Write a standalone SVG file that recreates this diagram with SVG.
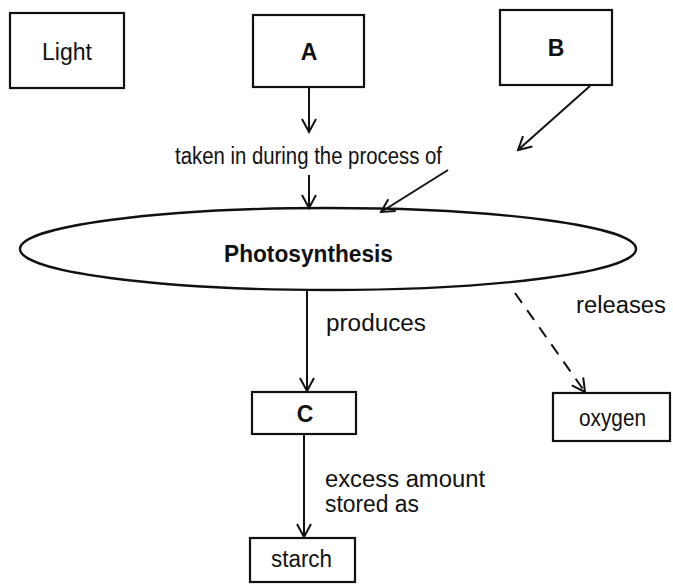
<svg xmlns="http://www.w3.org/2000/svg" width="673" height="586" viewBox="0 0 673 586">
<style>
.box{fill:#fff;stroke:#111;stroke-width:2.2}
.t{font-family:"Liberation Sans",Arial,sans-serif;font-size:23px;fill:#111}
.b{font-weight:bold}
.c{stroke:#111;stroke-width:2;fill:none}
.d{stroke-dasharray:12 9}
</style>
<defs>
<marker id="ah" viewBox="0 0 16 16" refX="14" refY="8" markerWidth="16" markerHeight="16" markerUnits="userSpaceOnUse" orient="auto">
<path d="M1,1 L14,8 L1,15" fill="none" stroke="#111" stroke-width="2"/>
</marker>
</defs>
<rect width="673" height="586" fill="#fff"/>
<g id="connectors">
<line class="c" x1="309" y1="87" x2="309" y2="132" marker-end="url(#ah)"/>
<line class="c" x1="590" y1="86" x2="518" y2="150" marker-end="url(#ah)"/>
<line class="c" x1="309" y1="175" x2="309" y2="208" marker-end="url(#ah)"/>
<line class="c" x1="448" y1="170" x2="381" y2="212" marker-end="url(#ah)"/>
<line class="c" x1="307" y1="290" x2="307" y2="391" marker-end="url(#ah)"/>
<line class="c d" x1="515" y1="293" x2="585" y2="392" marker-end="url(#ah)"/>
<line class="c" x1="304" y1="434" x2="304" y2="537" marker-end="url(#ah)"/>
<text class="t" x="175" y="164" textLength="267" lengthAdjust="spacingAndGlyphs">taken in during the process of</text>
<text class="t" x="326" y="331" textLength="100" lengthAdjust="spacingAndGlyphs">produces</text>
<text class="t" x="576" y="313" textLength="90" lengthAdjust="spacingAndGlyphs">releases</text>
<text class="t" x="325" y="487" textLength="160" lengthAdjust="spacingAndGlyphs">excess amount</text>
<text class="t" x="325" y="512" textLength="94" lengthAdjust="spacingAndGlyphs">stored as</text>
</g>
<g id="light">
<rect class="box" x="10" y="13" width="114" height="75"/>
<text class="t" x="42" y="60" textLength="50" lengthAdjust="spacingAndGlyphs">Light</text>
</g>
<g id="A">
<rect class="box" x="253" y="15" width="111" height="72"/>
<text class="t b" x="309" y="60" text-anchor="middle">A</text>
</g>
<g id="B">
<rect class="box" x="500" y="10" width="112" height="75"/>
<text class="t b" x="556" y="56" text-anchor="middle">B</text>
</g>
<g id="photosynthesis">
<ellipse cx="328" cy="249" rx="308" ry="41" fill="none" stroke="#111" stroke-width="2.4"/>
<text class="t b" x="224" y="262" textLength="169" lengthAdjust="spacingAndGlyphs">Photosynthesis</text>
</g>
<g id="C">
<rect class="box" x="252" y="392" width="104" height="42"/>
<text class="t b" x="305" y="422" text-anchor="middle">C</text>
</g>
<g id="oxygen">
<rect class="box" x="553" y="393" width="117" height="48"/>
<text class="t" x="579" y="426" textLength="67" lengthAdjust="spacingAndGlyphs">oxygen</text>
</g>
<g id="starch">
<rect class="box" x="250" y="538" width="105" height="44"/>
<text class="t" x="271" y="567" textLength="61" lengthAdjust="spacingAndGlyphs">starch</text>
</g>
</svg>
